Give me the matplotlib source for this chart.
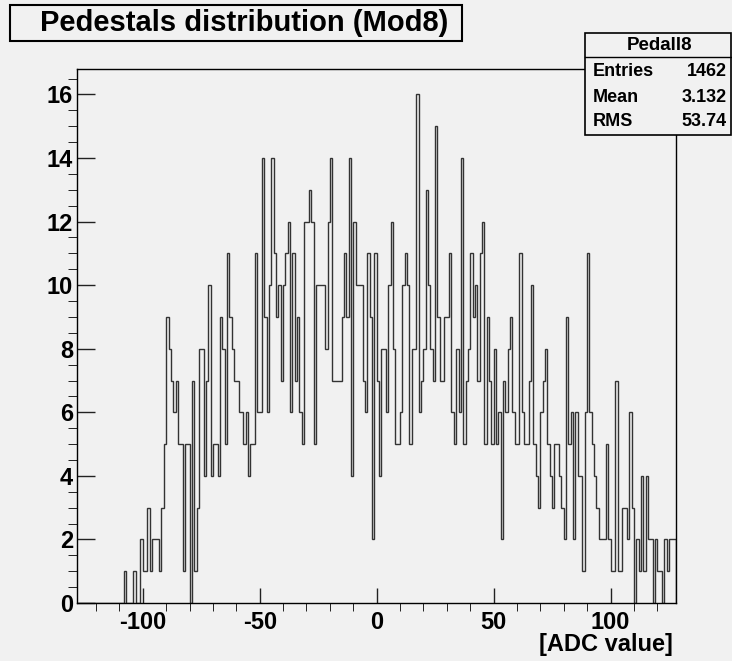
import matplotlib
matplotlib.use("Agg")
import matplotlib.pyplot as plt
from matplotlib.patches import Rectangle
from matplotlib.lines import Line2D
from matplotlib.ticker import MultipleLocator
import numpy as np

# histogram "Pedall8": 256 bins of width 1 from -128 to 128
x_min = -128
x_max = 128
counts = [
    # -128 .. -97
    0, 0, 0, 0, 0, 0, 0, 0, 0, 0, 0, 0, 0, 0, 0, 0,
    0, 0, 0, 0, 1, 0, 0, 0, 1, 0, 0, 2, 1, 1, 3, 1,
    # -96 .. -65
    2, 2, 2, 1, 3, 5, 9, 8, 7, 6, 7, 5, 5, 1, 5, 5,
    0, 7, 1, 3, 8, 8, 4, 7, 10, 4, 5, 5, 4, 9, 8, 5,
    # -64 .. -33
    11, 9, 8, 7, 7, 6, 6, 5, 6, 4, 5, 5, 11, 6, 6, 14,
    9, 6, 10, 14, 11, 9, 10, 7, 10, 11, 12, 6, 11, 7, 9, 6,
    # -32 .. -1
    5, 12, 12, 13, 12, 5, 10, 10, 10, 10, 8, 12, 14, 7, 7, 7,
    7, 9, 11, 9, 14, 4, 12, 10, 10, 10, 7, 6, 11, 9, 2, 11,
    # 0 .. 31
    7, 4, 8, 8, 6, 10, 12, 8, 5, 5, 6, 10, 11, 10, 5, 8,
    8, 16, 6, 7, 8, 13, 10, 8, 7, 15, 9, 7, 7, 9, 9, 11,
    # 32 .. 63
    6, 5, 8, 6, 14, 5, 7, 8, 11, 9, 10, 7, 11, 12, 5, 9,
    7, 5, 8, 5, 6, 2, 7, 6, 8, 9, 6, 5, 5, 11, 6, 5,
    # 64 .. 95
    5, 7, 10, 5, 4, 3, 6, 7, 8, 5, 4, 3, 5, 5, 4, 3,
    2, 9, 5, 6, 2, 6, 4, 4, 1, 6, 11, 6, 5, 4, 3, 2,
    # 96 .. 127
    2, 2, 5, 2, 1, 1, 7, 1, 1, 3, 3, 2, 6, 3, 0, 2,
    1, 4, 1, 4, 2, 2, 0, 2, 1, 1, 0, 2, 1, 2, 2, 2,
]
edges = np.arange(x_min, x_max + 1)

hist_name = "Pedall8"
stat_names = ["Entries", "Mean", "RMS"]
stat_values = ["1462", "3.132", "53.74"]
title = "Pedestals distribution (Mod8)"
x_title = "[ADC value]"

BG = "#f1f1f1"
LINE = "#333333"
W, H = 732, 661

plt.rcParams["font.family"] = ["Liberation Sans", "DejaVu Sans"]
plt.rcParams["font.weight"] = "bold"
plt.rcParams["axes.unicode_minus"] = False


def fx(x):
    return x / W


def fy(y):
    return 1 - y / H


fig = plt.figure(figsize=(W / 100, H / 100), dpi=100, facecolor=BG)

# frame: x 77..676 px, y 69..603 px
left, right, top, bottom = 77.3, 676.0, 69.0, 603.0
ax = fig.add_axes([fx(left), fy(bottom), (right - left) / W, (bottom - top) / H])
ax.set_facecolor(BG)
ax.stairs(counts, edges, color=LINE, lw=1.0)
ax.set_xlim(x_min, x_max)
ax.set_ylim(0, 16.8)

ax.xaxis.set_major_locator(MultipleLocator(50))
ax.xaxis.set_minor_locator(MultipleLocator(10))
ax.yaxis.set_major_locator(MultipleLocator(2))
ax.yaxis.set_minor_locator(MultipleLocator(0.5))
ax.tick_params(direction="in", top=False, right=False, colors="#222222",
               labelcolor="black", labelsize=17, width=1.0)
ax.tick_params(axis="x", which="major", length=11, pad=6)
ax.tick_params(axis="x", which="minor", length=5.5)
ax.tick_params(axis="y", which="major", length=13, pad=3)
ax.tick_params(axis="y", which="minor", length=6.5)
for s in ax.spines.values():
    s.set_linewidth(1.0)
    s.set_color("black")

fig.text(fx(673), fy(645), x_title, ha="right", va="center", fontsize=17)

# title box
fig.patches.append(Rectangle((fx(10), fy(41)), fx(452), 36 / H, transform=fig.transFigure,
                             facecolor=BG, edgecolor="black", lw=1.5, zorder=5))
fig.text(fx(244), fy(23), title, ha="center", va="center", fontsize=21, zorder=6)

# stats box
bx0, bx1, by0, by1, bsep = 585, 731, 33, 135, 57
fig.patches.append(Rectangle((fx(bx0), fy(by1)), (bx1 - bx0) / W, (by1 - by0) / H,
                             transform=fig.transFigure, facecolor=BG,
                             edgecolor="black", lw=1.2, zorder=5))
fig.lines.append(Line2D([fx(bx0), fx(bx1)], [fy(bsep), fy(bsep)], transform=fig.transFigure,
                        color="black", lw=1.0, zorder=6))
fig.text(fx(660), fy(45), hist_name, ha="center", va="center", fontsize=13.5, zorder=7)
row_y = [72, 97, 122]
for name, val, ry in zip(stat_names, stat_values, row_y):
    fig.text(fx(593), fy(ry), name, ha="left", va="center", fontsize=13, zorder=7)
    fig.text(fx(727), fy(ry), val, ha="right", va="center", fontsize=13, zorder=7)

fig.savefig("out.png", dpi=100, facecolor=BG)
